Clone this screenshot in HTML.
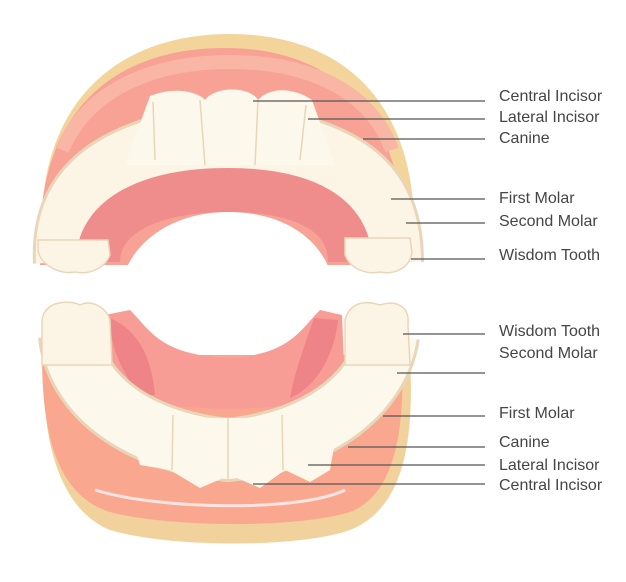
<!DOCTYPE html>
<html><head><style>
body{margin:0;background:#fff;}
.l{font-family:"Liberation Sans",sans-serif;font-size:16px;fill:#454545;}
</style></head><body>
<svg width="626" height="577" viewBox="0 0 626 577" xmlns="http://www.w3.org/2000/svg">
<!-- UPPER -->
<path d="M42,235 C38,110 110,34 230,34 C350,34 418,110 414,240 L400,260 L52,260 Z" fill="#f3d49b"/>
<path d="M40,240 C40,115 110,48 225,48 C335,48 405,115 405,250 L405,265 L40,265 Z" fill="#f7a294"/>
<path d="M62,150 C90,85 160,62 230,62 C300,62 368,85 392,150" fill="none" stroke="#f9b6a5" stroke-width="14"/>
<!-- teeth arch -->
<path d="M65,262 C62,205 90,170 150,150 C190,138 270,138 310,150 C370,170 392,205 392,262" fill="none" stroke="#e9d6b8" stroke-width="64"/>
<path d="M65,262 C62,205 90,170 150,150 C190,138 270,138 310,150 C370,170 392,205 392,262" fill="none" stroke="#fcf5e6" stroke-width="58"/>
<path d="M150,96 C175,86 198,92 205,100 C215,86 250,86 258,100 C268,88 292,86 312,100 L335,165 L125,165 Z" fill="#fdf8ec"/>
<!-- palate -->
<path d="M98,262 C98,215 152,190 228,190 C305,190 350,215 350,262" fill="none" stroke="#ef8d8c" stroke-width="44"/>
<path d="M120,292 C125,245 170,212 228,212 C290,212 330,245 335,292 Z" fill="#fff"/>
<path d="M40,266 L420,266 L420,292 L40,292 Z" fill="#fff"/>
<path d="M38,250 C40,265 60,275 75,272 C90,275 105,268 110,255 L108,240 L38,240 Z" fill="#fcf5e6" stroke="#e9d6b8" stroke-width="1.5"/>
<path d="M345,255 C350,268 365,275 380,272 C395,275 410,268 412,252 L410,238 L345,238 Z" fill="#fcf5e6" stroke="#e9d6b8" stroke-width="1.5"/>
<g stroke="#e9d6b8" stroke-width="1.5" fill="none">
<line x1="200" y1="100" x2="205" y2="165"/><line x1="258" y1="100" x2="255" y2="165"/><line x1="153" y1="102" x2="155" y2="160"/><line x1="306" y1="105" x2="300" y2="160"/>
</g>
<!-- LOWER -->
<path d="M45,360 C40,440 60,510 110,530 C170,548 300,548 350,530 C400,510 415,450 410,360 Z" fill="#f2d29c"/>
<path d="M42,355 C42,430 55,495 110,512 C170,528 300,528 350,512 C395,495 405,430 402,355 Z" fill="#f9a88f"/>
<path d="M95,490 C160,510 300,512 345,490" fill="none" stroke="#fde4e2" stroke-width="3"/>
<!-- tongue floor -->
<path d="M105,315 L130,310 C150,330 160,355 228,358 C290,355 300,330 320,310 L342,315 L345,390 C300,415 160,415 110,390 Z" fill="#f79d96"/>
<path d="M110,318 C125,325 150,340 155,395 L140,395 C120,370 110,345 110,318 Z" fill="#ee8388"/>
<path d="M314,318 L338,320 C335,350 320,385 290,398 C295,370 305,345 314,318 Z" fill="#ee8388"/>
<!-- lower teeth -->
<path d="M70,335 C75,390 130,440 228,450 C325,440 380,390 388,335" fill="none" stroke="#e9d6b8" stroke-width="64"/>
<path d="M70,335 C75,390 130,440 228,450 C325,440 380,390 388,335" fill="none" stroke="#fdf8ec" stroke-width="58"/>
<path d="M125,412 C150,420 330,420 340,412 L330,470 L310,482 L285,470 L260,488 L230,475 L200,488 L170,470 L140,465 Z" fill="#fdf8ec"/>
<path d="M42,320 C45,300 70,300 80,305 C90,300 105,305 110,320 L112,365 L42,365 Z" fill="#fcf5e6" stroke="#e9d6b8" stroke-width="1.5"/>
<path d="M345,320 C350,302 365,300 380,305 C395,300 410,305 408,325 L410,365 L345,365 Z" fill="#fcf5e6" stroke="#e9d6b8" stroke-width="1.5"/>
<g stroke="#e9d6b8" stroke-width="1.5" fill="none">
<line x1="173" y1="415" x2="172" y2="470"/><line x1="228" y1="418" x2="228" y2="480"/><line x1="282" y1="415" x2="283" y2="470"/>
</g>
<!-- leader lines -->
<g stroke="#555" stroke-width="1.3">
<line x1="253" y1="101" x2="485" y2="101"/><line x1="308" y1="119" x2="485" y2="119"/><line x1="363" y1="139" x2="485" y2="139"/>
<line x1="391" y1="199" x2="485" y2="199"/><line x1="406" y1="223" x2="485" y2="223"/><line x1="411" y1="259" x2="485" y2="259"/>
<line x1="403" y1="334" x2="485" y2="334"/><line x1="397" y1="373" x2="485" y2="373"/><line x1="383" y1="416" x2="485" y2="416"/>
<line x1="348" y1="447" x2="485" y2="447"/><line x1="308" y1="465" x2="485" y2="465"/><line x1="253" y1="484" x2="485" y2="484"/>
</g>
<g class="l">
<text x="499" y="101">Central Incisor</text><text x="499" y="122">Lateral Incisor</text><text x="499" y="143">Canine</text>
<text x="499" y="203">First Molar</text><text x="499" y="226">Second Molar</text><text x="499" y="260">Wisdom Tooth</text>
<text x="499" y="336">Wisdom Tooth</text><text x="499" y="358">Second Molar</text><text x="499" y="418">First Molar</text>
<text x="499" y="447">Canine</text><text x="499" y="470">Lateral Incisor</text><text x="499" y="490">Central Incisor</text>
</g>
</svg>
</body></html>
